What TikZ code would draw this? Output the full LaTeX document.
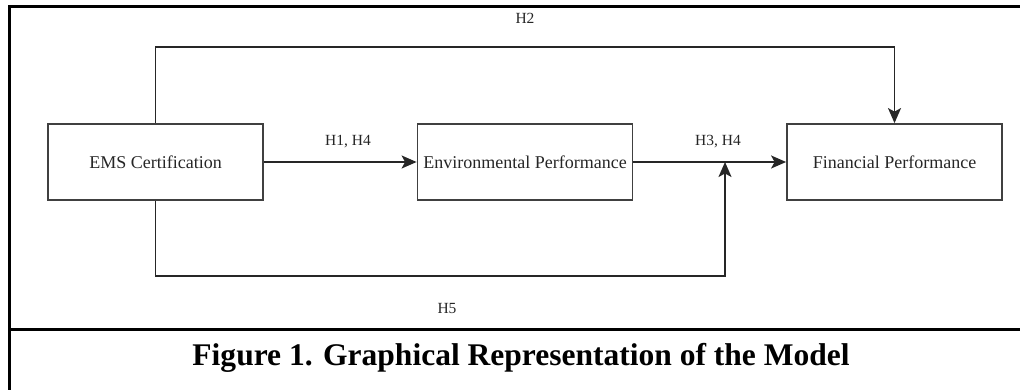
\documentclass[tikz,border=0pt]{standalone}
\usepackage{fontspec}
\setmainfont{Liberation Serif}
\usetikzlibrary{arrows.meta}
\tikzset{
  boxnode/.style={draw=black!75, line width=1.8pt, minimum width=215pt, minimum height=76pt, inner sep=0pt, font=\fontsize{18}{20}\selectfont, text=black!85},
  conn/.style={draw=black!85, line width=1.7pt},
  arr/.style={conn, -{Stealth[length=15pt,width=13pt,inset=3.5pt]}},
  lbl/.style={font=\fontsize{15.5}{17}\selectfont, text=black!85, inner sep=0pt},
  frame/.style={draw=black, line width=3pt}
}
\begin{document}
\begin{tikzpicture}[x=1pt,y=-1pt]
\useasboundingbox (0,0) rectangle (1020,390);
% frame
\coordinate (ftl) at (9,7);
\coordinate (ftr) at (1020,7);
\coordinate (fbl) at (9,390);
\coordinate (fsl) at (9,329);
\coordinate (fsr) at (1020,329);
\draw[frame] (ftr) -- (ftl) -- (fbl);
\draw[frame] (fsl) -- (fsr);
% boxes
\node[boxnode] (ems) at (155.5,162) {EMS Certification};
\node[boxnode] (env) at (525,162) {Environmental Performance};
\node[boxnode] (fin) at (894.5,162) {Financial Performance};
% connectors
\coordinate (top) at (525,47);
\coordinate (bot) at (440,276);
\coordinate (join) at (725,162);
\draw[arr] (ems.east) -- (env.west);
\draw[arr] (env.east) -- (fin.west);
\draw[arr] (ems.north) |- (top) -| (fin.north);
\draw[arr] (ems.south) |- (bot) -| (join);
% labels
\node[lbl] (h2) at (525,18) {H2};
\node[lbl] (h14) at (348,142) {H1, H4};
\node[lbl] (h34) at (718,142) {H3, H4};
\node[lbl] (h5) at (447,309) {H5};
% caption
\node[inner sep=0pt] (cap) at (521,358) {\resizebox{657pt}{!}{\bfseries\fontsize{26}{30}\selectfont Figure 1. Graphical Representation of the Model}};
\end{tikzpicture}
\end{document}
